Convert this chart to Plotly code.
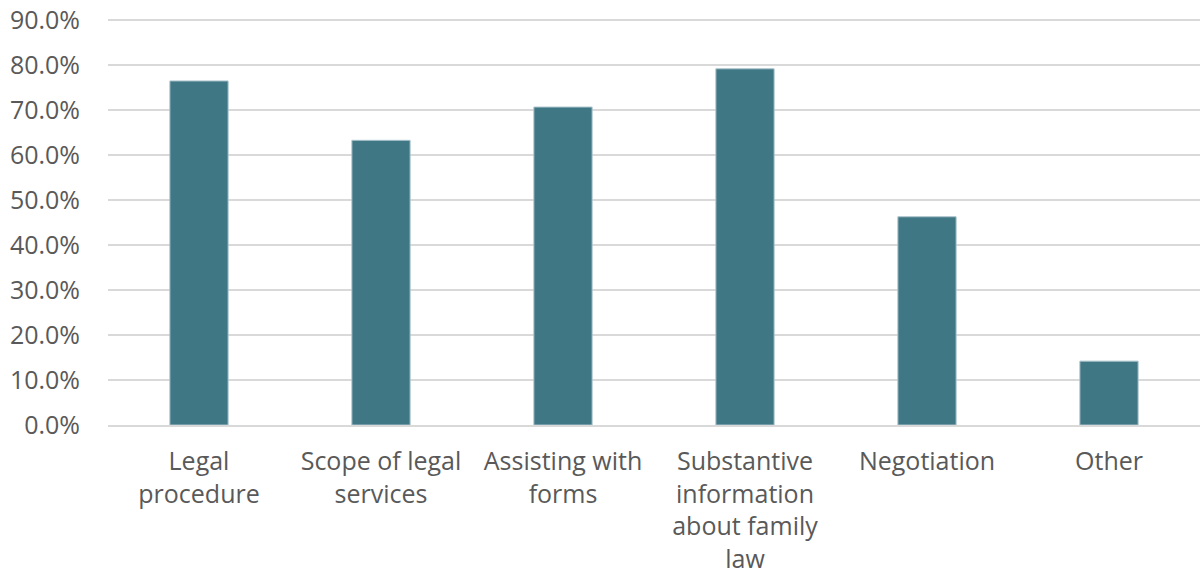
import plotly.graph_objects as go

categories = ["Legal<br>procedure", "Scope of legal<br>services", "Assisting with<br>forms",
              "Substantive<br>information<br>about family<br>law", "Negotiation", "Other"]
values = [0.765, 0.633, 0.707, 0.792, 0.463, 0.142]
y_ticks = [i / 10 for i in range(10)]

fig = go.Figure(go.Bar(
    x=categories, y=values,
    marker=dict(color="#407785", line=dict(color="#a9c3cb", width=1)),
))
fig.update_layout(
    width=1202, height=577,
    margin=dict(l=108, r=2, t=18, b=152),
    paper_bgcolor="white", plot_bgcolor="white",
    font=dict(family="Open Sans, Liberation Sans, sans-serif", size=25, color="#595959"),
    showlegend=False,
    bargap=0.68,
)
fig.update_yaxes(range=[0, 0.905], tickvals=y_ticks, tickformat=".1%",
                 gridcolor="#d9d9d9", gridwidth=2, zeroline=False,
                 ticks="outside", ticklen=22, tickcolor="rgba(0,0,0,0)",
                 showline=False, automargin=False)
fig.update_xaxes(showline=True, linecolor="#d9d9d9", linewidth=2,
                 ticks="outside", ticklen=13, tickcolor="rgba(0,0,0,0)",
                 automargin=False)
fig.write_html("out.html", config={"displayModeBar": False},
               post_script="document.body.style.margin='0';document.body.style.overflow='hidden';")
